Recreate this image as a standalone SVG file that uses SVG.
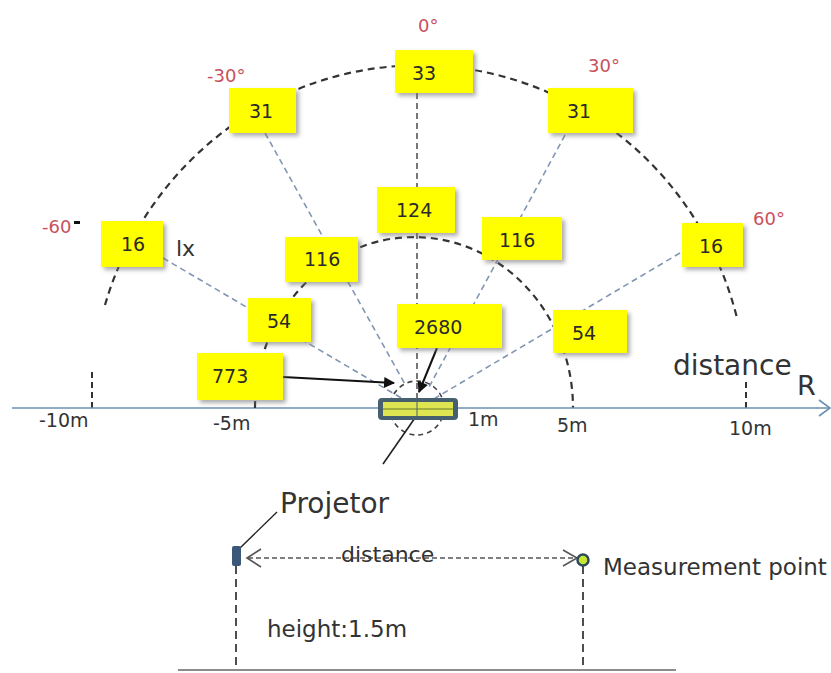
<svg xmlns="http://www.w3.org/2000/svg" width="831" height="673" viewBox="0 0 831 673">
<defs>
  <filter id="sh" x="-20%" y="-20%" width="150%" height="160%">
    <feDropShadow dx="3" dy="3" stdDeviation="2" flood-color="#777" flood-opacity="0.6"/>
  </filter>
  <marker id="ah" viewBox="0 0 10 10" refX="9" refY="5" markerWidth="12" markerHeight="11" orient="auto" markerUnits="userSpaceOnUse">
    <path d="M0,0 L10,5 L0,10 z" fill="#111"/>
  </marker>
</defs>
<style>
  .box{fill:#ffff00;filter:url(#sh);}
  .num{font-family:"DejaVu Sans",Verdana,sans-serif;font-size:19px;fill:#2a2a2a;}
  .deg{font-family:"DejaVu Sans",Verdana,sans-serif;font-size:18px;fill:#c9505c;}
  .lbl{font-family:"DejaVu Sans",Verdana,sans-serif;fill:#333;}
  .arc{fill:none;stroke:#333;stroke-width:2.2;stroke-dasharray:7 5;}
  .ray{fill:none;stroke:#8296b4;stroke-width:1.6;stroke-dasharray:6 4;}
  .vline{fill:none;stroke:#555;stroke-width:1.6;stroke-dasharray:6 4;}
  .tick{fill:none;stroke:#333;stroke-width:2;stroke-dasharray:6 4;}
  .arr{fill:none;stroke:#111;stroke-width:2;}
</style>
<rect width="831" height="673" fill="#ffffff"/>

<g id="connectors">
  <path class="arc" d="M105,305 A328,336 0 0 1 737,318"/>
  <path class="arc" d="M255,408 A159,171 0 0 1 573,408"/>
  <line class="tick" x1="92" y1="372" x2="92" y2="408"/>
  <line class="tick" x1="746" y1="382" x2="746" y2="408"/>
  <line class="ray" x1="163" y1="258" x2="403" y2="399"/>
  <line class="ray" x1="265" y1="133" x2="406" y2="386"/>
  <line class="ray" x1="565" y1="135" x2="428" y2="389"/>
  <line class="ray" x1="680" y1="253" x2="432" y2="400"/>
  <line class="vline" x1="417" y1="93" x2="417" y2="400"/>
  <circle cx="417" cy="408" r="27" fill="none" stroke="#444" stroke-width="1.6" stroke-dasharray="5 4"/>
  <line x1="12" y1="408" x2="829" y2="408" stroke="#6e8fb0" stroke-width="1.6"/>
  <polyline points="819,400 830,408 819,416" fill="none" stroke="#6e8fb0" stroke-width="1.6"/>
  <line x1="255" y1="401" x2="255" y2="408" stroke="#333" stroke-width="2"/>
  <line class="arr" x1="283" y1="377" x2="394" y2="383" marker-end="url(#ah)"/>
  <line class="arr" x1="437" y1="348" x2="419" y2="392" marker-end="url(#ah)"/>
  <line x1="417" y1="415" x2="383" y2="464" stroke="#222" stroke-width="1.6"/>
</g>

<g id="projector-device">
  <rect x="378" y="398" width="80" height="22" rx="4" fill="#476070"/>
  <rect x="383" y="402" width="70" height="14" fill="#dde650"/>
  <line x1="383" y1="409" x2="453" y2="409" stroke="#8e9c3a" stroke-width="1.5"/>
  <line x1="417" y1="400" x2="417" y2="418" stroke="#476070" stroke-width="1"/>
</g>

<g id="n-33"><rect class="box" x="395" y="50" width="78" height="43"/><text class="num" x="412" y="80">33</text></g>
<g id="n-31L"><rect class="box" x="229" y="88" width="67" height="45"/><text class="num" x="249" y="118">31</text></g>
<g id="n-31R"><rect class="box" x="548" y="88" width="85" height="45"/><text class="num" x="567" y="118">31</text></g>
<g id="n-124"><rect class="box" x="377" y="187" width="78" height="46"/><text class="num" x="396" y="217">124</text></g>
<g id="n-16L"><rect class="box" x="101" y="221" width="62" height="46"/><text class="num" x="121" y="251">16</text></g>
<g id="n-116L"><rect class="box" x="285" y="237" width="73" height="45"/><text class="num" x="304" y="266">116</text></g>
<g id="n-116R"><rect class="box" x="482" y="217" width="80" height="43"/><text class="num" x="499" y="247">116</text></g>
<g id="n-16R"><rect class="box" x="682" y="223" width="61" height="44"/><text class="num" x="699" y="253">16</text></g>
<g id="n-54L"><rect class="box" x="248" y="298" width="63" height="44"/><text class="num" x="267" y="328">54</text></g>
<g id="n-2680"><rect class="box" x="397" y="304" width="105" height="44"/><text class="num" x="414" y="334">2680</text></g>
<g id="n-54R"><rect class="box" x="553" y="310" width="74" height="43"/><text class="num" x="572" y="340">54</text></g>
<g id="n-773"><rect class="box" x="197" y="353" width="86" height="47"/><text class="num" x="212" y="383">773</text></g>

<g id="angle-labels">
  <text class="deg" x="418" y="32">0°</text>
  <text class="deg" x="207" y="82">-30°</text>
  <text class="deg" x="588" y="72">30°</text>
  <text class="deg" x="42" y="233">-60</text>
  <rect x="74" y="221" width="6" height="3" fill="#111"/>
  <text class="deg" x="753" y="225">60°</text>
  <text class="lbl" x="176" y="256" font-size="22" fill="#555">lx</text>
</g>

<g id="axis-labels">
  <text class="lbl" x="39" y="427" font-size="19">-10m</text>
  <text class="lbl" x="213" y="430" font-size="19">-5m</text>
  <text class="lbl" x="468" y="426" font-size="19">1m</text>
  <text class="lbl" x="557" y="432" font-size="19">5m</text>
  <text class="lbl" x="729" y="435" font-size="19">10m</text>
  <text class="lbl" x="673" y="375" font-size="28">distance</text>
  <text class="lbl" x="797" y="395" font-size="27">R</text>
</g>

<g id="side-view">
  <line x1="178" y1="670" x2="676" y2="670" stroke="#666" stroke-width="1.6"/>
  <line x1="236" y1="566" x2="236" y2="670" stroke="#222" stroke-width="1.6" stroke-dasharray="8 5"/>
  <line x1="583" y1="566" x2="583" y2="670" stroke="#222" stroke-width="1.6" stroke-dasharray="8 5"/>
  <line x1="248" y1="558" x2="576" y2="558" stroke="#555" stroke-width="1.6" stroke-dasharray="5 3"/>
  <polyline points="261,549 247,558 261,567" fill="none" stroke="#555" stroke-width="1.6"/>
  <polyline points="563,550 577,558 563,566" fill="none" stroke="#555" stroke-width="1.6"/>
  <line x1="277" y1="512" x2="240" y2="548" stroke="#222" stroke-width="1.4"/>
</g>

<g id="projector-marker">
  <rect x="232" y="546" width="9" height="20" rx="2" fill="#3b5878"/>
  <text class="lbl" x="280" y="513" font-size="28">Projetor</text>
</g>

<g id="measurement-point">
  <circle cx="583" cy="560" r="5.5" fill="#c8e632" stroke="#2d4a5a" stroke-width="2.5"/>
  <text class="lbl" x="603" y="575" font-size="23">Measurement point</text>
</g>

<g id="side-labels">
  <text class="lbl" x="341" y="562" font-size="22">distance</text>
  <text class="lbl" x="267" y="637" font-size="23">height:1.5m</text>
</g>
</svg>
